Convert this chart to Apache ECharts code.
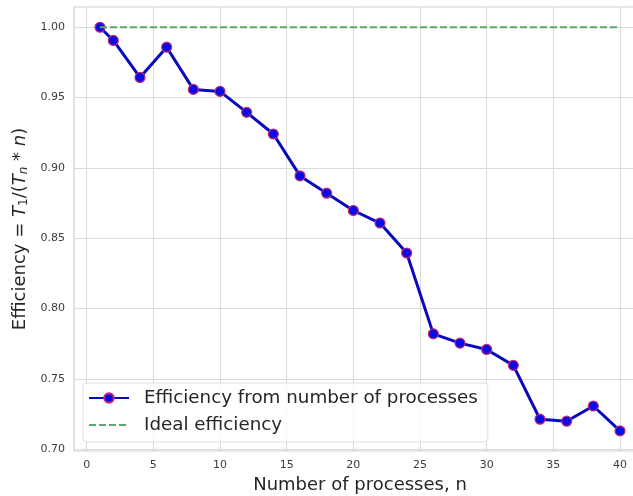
<!DOCTYPE html>
<html>
<head>
<meta charset="utf-8">
<script src="https://cdn.jsdelivr.net/npm/echarts@6/dist/echarts.min.js"></script>
<style>
  html, body { margin: 0; padding: 0; background: #ffffff; }
  #chart { width: 633px; height: 496px; }
</style>
</head>
<body>
<div id="chart"></div>
<script>
// Number of processes and the measured parallel efficiency T1 / (Tn * n)
const processes = [1, 2, 4, 6, 8, 10, 12, 14, 16, 18, 20, 22, 24, 26, 28, 30, 32, 34, 36, 38, 40];
const efficiency = [1.000, 0.9906, 0.9643, 0.9858, 0.9558, 0.9544, 0.9395, 0.9241, 0.8943, 0.8820,
                    0.8697, 0.8608, 0.8395, 0.7820, 0.7754, 0.7709, 0.7596, 0.7213, 0.7199, 0.7307, 0.7130];

// Ideal (linear speed-up) efficiency, drawn from the first to the last process count
const idealProcesses = [1, 40];
const idealEfficiency = [1.0, 1.0];

// Tick values
const xTicks = [0, 5, 10, 15, 20, 25, 30, 35, 40];
const yTicks = [0.70, 0.75, 0.80, 0.85, 0.90, 0.95, 1.00];

const seriesName = 'Efficiency from number of processes';
const idealName = 'Ideal efficiency';

const gridColor = '#dadada';
const textColor = '#3c3c3c';
const fontFamily = '"DejaVu Sans", sans-serif';

const chart = echarts.init(document.getElementById('chart'), null, { renderer: 'canvas' });

chart.setOption({
  animation: false,
  backgroundColor: '#ffffff',
  textStyle: { fontFamily: fontFamily },
  grid: {
    left: 74, right: -13, top: 7, bottom: 45,
    containLabel: false,
    outerBoundsMode: 'none',
    show: true,
    borderColor: '#d0d0d0',
    borderWidth: 1.2,
    backgroundColor: '#ffffff'
  },
  legend: {
    orient: 'vertical',
    left: 83, top: 383,
    backgroundColor: 'rgba(255,255,255,0.85)',
    borderColor: '#e0e0e0',
    borderWidth: 1,
    borderRadius: 4,
    padding: [6, 10, 8, 5],
    itemGap: 9,
    itemWidth: 40,
    itemHeight: 12,
    textStyle: { fontSize: 18.3, color: '#262626', fontFamily: fontFamily, padding: [0, 0, 0, 10] },
    data: [
      { name: seriesName },
      { name: idealName, itemStyle: { opacity: 0 } }
    ]
  },
  xAxis: {
    type: 'value',
    min: -0.95,
    max: 41.95,
    name: 'Number of processes, n',
    nameLocation: 'middle',
    nameGap: 22,
    nameTextStyle: { fontSize: 18, color: '#262626', fontFamily: fontFamily },
    axisLine: { show: false },
    axisTick: { show: false, customValues: xTicks },
    axisLabel: {
      customValues: xTicks,
      fontSize: 11, color: textColor, margin: 9,
      formatter: v => String(v)
    },
    splitLine: { show: true, lineStyle: { color: gridColor, width: 1 } }
  },
  yAxis: {
    type: 'value',
    min: 0.6987,
    max: 1.0144,
    name: 'Efficiency = {i|T}{s|1}/({i|T}{si|n} {i|*} {i|n})',
    nameLocation: 'middle',
    nameRotate: 90,
    nameGap: 41,
    nameTextStyle: {
      fontSize: 18, color: '#262626', fontFamily: fontFamily,
      rich: {
        i: { fontSize: 18, fontStyle: 'italic', color: '#262626', fontFamily: fontFamily },
        s: { fontSize: 12, color: '#262626', fontFamily: fontFamily, verticalAlign: 'bottom', padding: [6, 0, 0, 0] },
        si: { fontSize: 12, fontStyle: 'italic', color: '#262626', fontFamily: fontFamily, verticalAlign: 'bottom', padding: [6, 0, 0, 0] }
      }
    },
    axisLine: { show: false },
    axisTick: { show: false, customValues: yTicks },
    axisLabel: {
      customValues: yTicks,
      fontSize: 11, color: textColor, margin: 9,
      formatter: v => v.toFixed(2)
    },
    splitLine: { show: true, lineStyle: { color: gridColor, width: 1 } }
  },
  series: [
    {
      name: seriesName,
      type: 'line',
      data: processes.map((n, i) => [n, efficiency[i]]),
      symbol: 'circle',
      symbolSize: 10,
      showSymbol: true,
      lineStyle: { color: '#0808c0', width: 3 },
      itemStyle: { color: '#0a0ae6', borderColor: '#c8286e', borderWidth: 1.2 },
      z: 3
    },
    {
      name: idealName,
      type: 'line',
      data: idealProcesses.map((n, i) => [n, idealEfficiency[i]]),
      showSymbol: false,
      symbol: 'none',
      lineStyle: { color: '#5aa86a', width: 2, type: [7, 3] },
      itemStyle: { color: '#5aa86a' },
      z: 4
    }
  ]
});
</script>
</body>
</html>
